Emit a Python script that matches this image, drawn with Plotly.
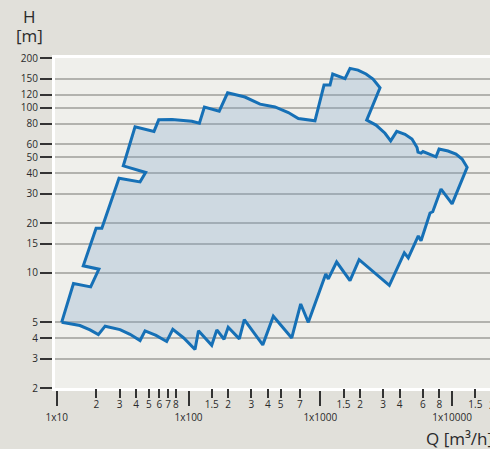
import plotly.graph_objects as go
import math

# Boundary of the pump selection area (flow Q in m3/h, head H in m), traced clockwise
Q_boundary = [10.9, 13.4, 18.1, 20.9, 15.9, 19.9, 22.0, 29.7, 42.9, 47.3, 32.0, 39.3, 54.7, 59.4,
              75, 94, 106, 121, 132, 171, 198, 268, 349, 453, 572, 681, 911, 1067, 1185, 1242,
              1540, 1680, 1932, 2222, 2511, 2838, 2249, 2646, 3097, 3420, 3800, 4390, 4960, 5420,
              5510, 5810, 6010, 7550, 7960, 9310, 10700, 11900, 13000, 10000, 8240, 7130, 6800,
              5810, 5540, 4650, 4340, 3340, 1970, 1680, 1330, 1150, 1100, 811, 710, 607, 440, 366,
              265, 243, 200, 186, 164, 150, 119, 112, 92, 76, 68.3, 56.7, 46.8, 42.9, 36, 30.2,
              23.3, 20.7, 17.9, 15.0, 10.9]
H_boundary = [5.0, 8.6, 8.2, 10.5, 11.0, 18.6, 18.6, 37.4, 35.5, 40.5, 44.4, 76.5, 71.8, 84.4,
              84.8, 84.0, 82.8, 80.6, 100.7, 95.2, 123, 116, 105, 101, 93.5, 86, 83.2, 137, 137, 160,
              150, 173, 169, 160, 149, 132, 84, 78.4, 70, 63, 71.8, 69, 64.5, 57.4,
              53.8, 53, 54.2, 50.4, 56.1, 54.6, 52.3, 48.8, 43.5, 26.1, 32.1, 23.4, 23.0,
              15.6, 16.7, 12.3, 13.2, 8.37, 12.0, 8.95, 11.6, 9.16, 9.82, 5.0, 6.46, 4.02, 5.45, 3.65,
              5.19, 3.97, 4.67, 3.95, 4.50, 3.63, 4.44, 3.42, 4.02, 4.53, 3.83, 4.17, 4.44, 3.88, 4.23, 4.52,
              4.74, 4.21, 4.50, 4.78, 5.0]

# Axis ticks
y_ticks = [2, 3, 4, 5, 10, 15, 20, 30, 40, 50, 60, 80, 100, 120, 150, 200]
x_major = [10, 100, 1000, 10000]
x_major_text = ["1x10", "1x100", "1x1000", "1x10000"]
x_minor = [20, 30, 40, 50, 60, 70, 80,
           150, 200, 300, 400, 500, 700,
           1500, 2000, 3000, 4000, 6000, 8000,
           15000, 20000]
x_minor_text = ["2", "3", "4", "5", "6", "7", "8",
                "1.5", "2", "3", "4", "5", "7",
                "1.5", "2", "3", "4", "6", "8",
                "1.5", "2"]

FONT = "Open Sans"
TXT = "#2a2a2a"
BG = "#E1E0DA"
x_range = [0.987, 4.2875]
y_range = [math.log10(2), math.log10(200)]

fig = go.Figure()
fig.add_trace(go.Scatter(
    x=Q_boundary, y=H_boundary, mode="lines", fill="toself",
    fillcolor="rgba(120,160,200,0.27)",
    line=dict(color="#1670B6", width=3),
    hoverinfo="skip", showlegend=False,
))
# invisible trace on second x-axis so it renders
fig.add_trace(go.Scatter(x=[100], y=[2.5], xaxis="x2", mode="markers",
                         marker=dict(opacity=0), showlegend=False, hoverinfo="skip"))

# the last minor label (20000) sits just past the right edge; show its visible part
last_frac = (math.log10(x_minor[-1]) - x_range[0]) / (x_range[1] - x_range[0])

fig.update_layout(
    width=490, height=449,
    margin=dict(l=55, r=0, t=58, b=61, autoexpand=False),
    paper_bgcolor=BG,
    plot_bgcolor="#EFEFEB",
    font=dict(family=FONT, size=10, color=TXT),
    xaxis=dict(
        type="log", range=x_range, automargin=False,
        tickvals=x_major, ticktext=x_major_text, tickangle=0,
        ticks="outside", ticklen=15, tickwidth=2, tickcolor="#333",
        showgrid=False, zeroline=False,
        showline=True, linecolor="white", linewidth=3, mirror=True,
        tickfont=dict(size=10, color=TXT, family=FONT),
        ticklabelstandoff=3,
    ),
    xaxis2=dict(
        type="log", range=x_range, overlaying="x", anchor="y", side="bottom",
        automargin=False, tickangle=0,
        tickvals=x_minor, ticktext=x_minor_text,
        ticks="outside", ticklen=9, tickwidth=2, tickcolor="#333",
        showgrid=False, zeroline=False, showline=False,
        tickfont=dict(size=10, color=TXT, family=FONT),
        ticklabelstandoff=-2,
    ),
    yaxis=dict(
        type="log", range=y_range, automargin=False,
        tickvals=y_ticks, ticktext=[str(v) for v in y_ticks],
        ticks="outside", ticklen=12, tickwidth=2, tickcolor="#333",
        showgrid=True, gridcolor="#B2B2AE", gridwidth=1.5,
        zeroline=False,
        showline=True, linecolor="white", linewidth=3, mirror=True,
        tickfont=dict(size=10, color=TXT, family=FONT),
    ),
    annotations=[
        dict(text="H", xref="paper", yref="paper", x=-0.0575, y=1.127,
             xanchor="center", yanchor="middle", showarrow=False,
             font=dict(size=17, color=TXT, family=FONT)),
        dict(text="[m]", xref="paper", yref="paper", x=-0.0575, y=1.067,
             xanchor="center", yanchor="middle", showarrow=False,
             font=dict(size=17, color=TXT, family=FONT)),
        dict(text="Q [m³/h]", xref="paper", yref="paper", x=0.848, y=-0.152,
             xanchor="left", yanchor="middle", showarrow=False,
             font=dict(size=17, color=TXT, family=FONT)),
        dict(text=x_minor_text[-1], xref="paper", yref="paper", x=last_frac, y=-0.052,
             xanchor="center", yanchor="middle", showarrow=False,
             font=dict(size=10, color=TXT, family=FONT)),
    ],
)

fig.write_html(
    "out.html",
    config={"displayModeBar": False},
    post_script="document.body.style.margin='0';document.body.style.overflow='hidden';"
                "document.body.style.background='" + BG + "';",
)
